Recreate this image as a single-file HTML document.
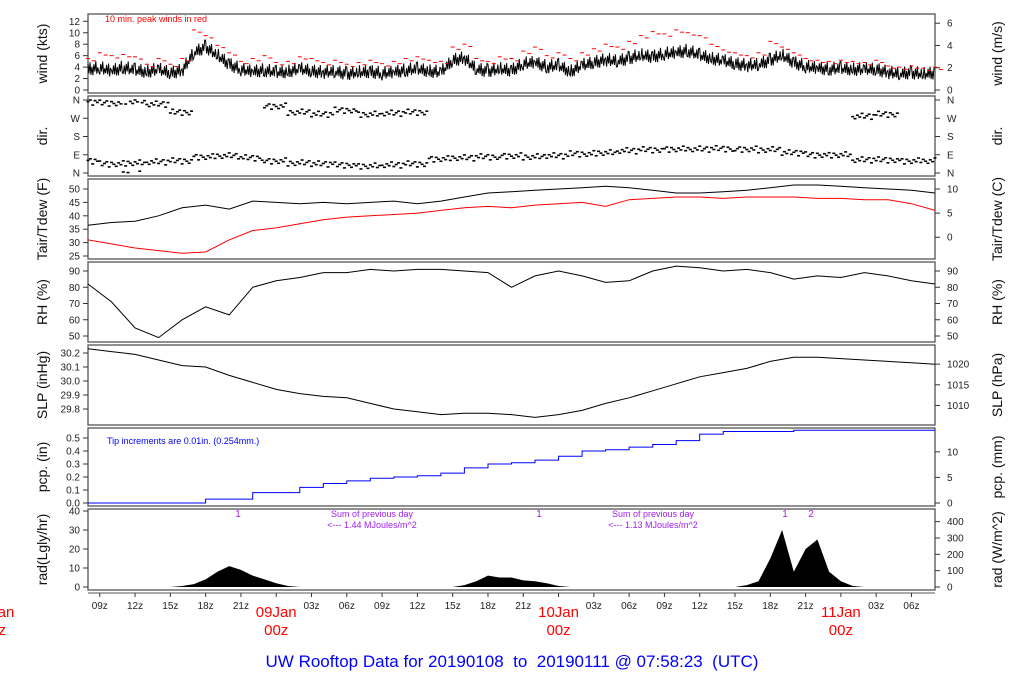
<!DOCTYPE html>
<html><head><meta charset="utf-8"><style>
html,body{margin:0;padding:0;background:#fff;}
svg{display:block;font-family:"Liberation Sans",sans-serif;}
</style></head><body>
<svg id="c" width="1024" height="700" viewBox="0 0 1024 700"></svg>
<script>
// ---- data (hourly from 08z 08Jan, or every 2h) ----
const windKts=[3.6,3.8,3.3,3.9,3.4,3.2,3.5,3.0,3.3,6.5,7.5,6.0,4.5,3.5,3.2,3.4,3.0,3.2,3.6,3.3,3.0,3.2,2.8,3.0,3.2,2.8,3.1,3.4,3.6,3.3,3.0,5.2,5.5,3.6,3.3,3.6,3.4,4.5,4.8,4.0,4.2,3.2,4.2,4.8,5.2,5.0,5.5,6.0,5.8,6.2,6.5,6.8,6.0,5.5,5.0,4.6,4.2,4.4,5.2,6.0,4.8,4.0,3.8,3.6,3.7,3.6,3.5,3.6,3.0,2.8,3.0,2.7,3.0];
const peakKts=[5.5,6.5,6.0,6.2,5.8,4.5,5.5,4.5,5.5,10.5,9.5,7.8,6.5,5.0,5.5,6.0,4.8,5.0,5.8,5.5,4.8,5.2,4.5,4.8,5.2,4.6,5.0,5.5,5.8,5.2,5.0,7.5,8.0,5.5,5.0,5.8,5.5,6.8,7.5,6.0,6.5,5.5,6.5,7.2,8.0,7.5,8.5,9.5,10.2,9.8,10.5,10.0,9.5,8.0,7.0,6.5,6.0,6.5,8.5,7.5,6.5,5.5,5.2,5.0,5.2,5.0,4.8,5.2,4.2,4.0,4.2,3.8,4.0];
const dirMain=[60,45,50,55,60,80,85,75,60,50,45,40,35,40,45,70,75,80,85,80,85,95,100,110,115,118,118,120,118,115,100,90,90,65,65,60,60];
const dirAlt=[350,345,355,340,300,null,null,null,330,300,290,310,290,295,300,null,null,null,null,null,null,null,null,null,null,null,null,null,null,null,null,null,null,280,290,null,null];
const tairF=[36.5,37.5,38,40,43,44,42.5,45.5,45,44.5,45,44.5,45,45.5,44.5,45.5,47,48.5,49,49.5,50,50.5,51,50.5,49.5,48.5,48.5,49,49.5,50.5,51.5,51.5,51,50.5,50,49.5,48.5];
const tdewF=[31,29.5,28,27,26,26.5,31,34.5,35.5,37,38.5,39.5,40,40.5,41,42,43,43.5,43,44,44.5,45,43.5,46,46.5,47,47,46.5,47,47,47,46.5,46.5,46,46,44.5,42];
const rhPct=[82,71,55,49,60,68,63,80,84,86,89,89,91,90,91,91,90,89,80,87,90,87,83,84,90,93,92,90,91,89,85,87,86,89,87,84,82];
const slpInHg=[30.23,30.21,30.19,30.15,30.11,30.10,30.04,29.99,29.94,29.91,29.89,29.88,29.84,29.80,29.78,29.76,29.77,29.77,29.76,29.74,29.76,29.79,29.84,29.88,29.93,29.98,30.03,30.06,30.09,30.14,30.17,30.17,30.16,30.15,30.14,30.13,30.12];
const pcpIn=[0,0,0,0,0,0.03,0.03,0.08,0.08,0.12,0.15,0.17,0.19,0.2,0.21,0.23,0.27,0.3,0.31,0.33,0.36,0.4,0.41,0.43,0.45,0.48,0.53,0.55,0.55,0.55,0.56,0.56,0.56,0.56,0.56,0.56,0.56];
const radLy=[0,0,0,0,0,0,0,0,0.5,1.5,4,8,11,9,6,4,2,0.5,0,0,0,0,0,0,0,0,0,0,0,0,0,0,1,3,6,5,5,3.5,3,2,0.5,0,0,0,0,0,0,0,0,0,0,0,0,0,0,0,1,3,15,30,8,20,25,8,3,0.5,0,0,0,0,0,0,0];
const xTickLabels=["09z","12z","15z","18z","21z","00z","03z","06z","09z","12z","15z","18z","21z","00z","03z","06z","09z","12z","15z","18z","21z","00z","03z","06z"];
const dayLabels=["08Jan","09Jan","10Jan","11Jan"];

const S=document.getElementById('c');const NS='http://www.w3.org/2000/svg';
function el(t,a,p){const e=document.createElementNS(NS,t);for(const k in a)e.setAttribute(k,a[k]);(p||S).appendChild(e);return e;}
function tx(x,y,s,a,name){const e=el('text',Object.assign({x:x,y:y},a));e.textContent=s;return e;}
const X0=88,X1=935,HRS=72;
function xs(t){return X0+t*(X1-X0)/HRS;}
function lin(v0,y0,v1,y1){return v=>y0+(v-v0)*(y1-y0)/(v1-v0);}
const P=[
 {n:'wind',top:14,bot:93,y:lin(0,90,12,21.3),lab:'wind (kts)',rlab:'wind (m/s)'},
 {n:'dir',top:96,bot:176,y:lin(0,173,360,100),lab:'dir.',rlab:'dir.'},
 {n:'temp',top:179,bot:259,y:lin(25,256,50,189),lab:'Tair/Tdew (F)',rlab:'Tair/Tdew (C)'},
 {n:'rh',top:262,bot:342,y:lin(50,336,90,271),lab:'RH (%)',rlab:'RH (%)'},
 {n:'slp',top:345,bot:425,y:lin(29.8,409,30.2,353),lab:'SLP (inHg)',rlab:'SLP (hPa)'},
 {n:'pcp',top:428,bot:506,y:lin(0,503,0.5,438),lab:'pcp. (in)',rlab:'pcp. (mm)'},
 {n:'rad',top:509,bot:590,y:lin(0,587,40,511),lab:'rad(Lgly/hr)',rlab:'rad (W/m^2)'}];
const lt={wind:[[0,'0'],[2,'2'],[4,'4'],[6,'6'],[8,'8'],[10,'10'],[12,'12']],
 dir:[[0,'N'],[90,'E'],[180,'S'],[270,'W'],[360,'N']],
 temp:[[25,'25'],[30,'30'],[35,'35'],[40,'40'],[45,'45'],[50,'50']],
 rh:[[50,'50'],[60,'60'],[70,'70'],[80,'80'],[90,'90']],
 slp:[[29.8,'29.8'],[29.9,'29.9'],[30.0,'30.0'],[30.1,'30.1'],[30.2,'30.2']],
 pcp:[[0,'0.0'],[0.1,'0.1'],[0.2,'0.2'],[0.3,'0.3'],[0.4,'0.4'],[0.5,'0.5']],
 rad:[[0,'0'],[10,'10'],[20,'20'],[30,'30'],[40,'40']]};
const rt={wind:[0,2,4,6].map(v=>[v*1.944,''+v]),dir:lt.dir,
 temp:[0,5,10].map(v=>[v*1.8+32,''+v]),rh:lt.rh,
 slp:[1010,1015,1020].map(v=>[v/33.8639,''+v]),
 pcp:[0,5,10].map(v=>[v/25.4,''+v]),
 rad:[0,100,200,300,400].map(v=>[v/11.63,''+v])};
P.forEach(p=>{
 const g=el('g',{});
 const r=el('rect',{x:X0,y:p.top,width:X1-X0,height:p.bot-p.top,fill:'none',stroke:'#555','stroke-width':1.3},g);
 
 lt[p.n].forEach(([v,s])=>{const y=p.y(v);el('line',{x1:X0-5,x2:X0,y1:y,y2:y,stroke:'#333'},g);
  tx(X0-8,y+3.5,s,{'font-size':10,'text-anchor':'end',fill:'#222'},p.n+'-left-tick-label');});
 rt[p.n].forEach(([v,s])=>{const y=p.y(v);el('line',{x1:X1,x2:X1+5,y1:y,y2:y,stroke:'#333'},g);
  tx(X1+12,y+3.5,s,{'font-size':10,fill:'#222'},p.n+'-right-tick-label');});
 const my=(p.top+p.bot)/2;
 tx(0,0,p.lab,{'font-size':14,'text-anchor':'middle',fill:'#111',transform:`translate(47,${my}) rotate(-90)`},p.n+'-y-axis-title');
 tx(0,0,p.rlab,{'font-size':14,'text-anchor':'middle',fill:'#111',transform:`translate(1002,${my}) rotate(-90)`},p.n+'-right-axis-title');
});
// wind
const jit=[0.9,-0.7,1.2,-1.0,0.4,-1.1,0.8,-0.5,1.3,-0.9,0.2,-0.6];
let wp=[];const yw=P[0].y;
windKts.forEach((v,i)=>{for(let k=0;k<12;k++){const t=i+k/12;if(t>HRS)break;const nv=i<HRS?v+(windKts[i+1]-v)*k/12:v;wp.push(xs(t).toFixed(1)+','+yw(nv+jit[(k+i*5)%12]).toFixed(1));}});
const wl=el('polyline',{points:wp.join(' '),fill:'none',stroke:'#000','stroke-width':1});

peakKts.forEach((v,i)=>{[0,0.5].forEach(o=>{const d=el('line',{x1:xs(i+o)-2,x2:xs(i+o)+2,y1:yw(v-o*0.8),y2:yw(v-o*0.8),stroke:'#f00','stroke-width':1});
 });});
tx(105,22,'10 min. peak winds in red',{'font-size':9,fill:'#f00'},'peak-wind-note');
// dir
const yd=P[1].y;const dj=[-12,5,-4,14,-8,2,10,-15,7,-2];
function dirDots(arr,name){arr.forEach((v,i)=>{if(v==null)return;for(let k=0;k<10;k++){const t=i*2-1+k*0.2;if(t<0||t>HRS)continue;let dv=v+dj[(k+i*3)%10];if(dv<0)dv+=360;if(dv>360)dv-=360;
 const d=el('line',{x1:xs(t)-1.5,x2:xs(t)+1.5,y1:yd(dv),y2:yd(dv),stroke:'#000','stroke-width':1.6});
 }});}
dirDots(dirMain,'wind-dir-mark');dirDots(dirAlt,'wind-dir-mark-alt');
// lines helper
function line(arr,p,col,name){const pts=arr.map((v,i)=>xs(i*2).toFixed(1)+','+p.y(v).toFixed(1)).join(' ');
 const l=el('polyline',{points:pts,fill:'none',stroke:col,'stroke-width':1});}
line(tairF,P[2],'#000','tair-line');line(tdewF,P[2],'#f00','tdew-line');
line(rhPct,P[3],'#000','rh-line');line(slpInHg,P[4],'#000','slp-line');
// pcp step
let pp=[];pcpIn.forEach((v,i)=>{const y=P[5].y(v).toFixed(1);pp.push(xs(i*2).toFixed(1)+','+y);pp.push(xs(Math.min(HRS,i*2+2)).toFixed(1)+','+y);});
const pl=el('polyline',{points:pp.join(' '),fill:'none',stroke:'#00f','stroke-width':1});

tx(107,444,'Tip increments are 0.01in. (0.254mm.)',{'font-size':9,fill:'#00f'},'tip-note');
// rad
let rp=[xs(0)+','+P[6].y(0)];radLy.forEach((v,i)=>rp.push(xs(i).toFixed(1)+','+P[6].y(v).toFixed(1)));rp.push(xs(HRS)+','+P[6].y(0));
const ra=el('polygon',{points:rp.join(' '),fill:'#000'});
const pu='#a020f0';
[[238,'1'],[539,'1'],[785,'1'],[811,'2']].forEach(([x,s])=>tx(x,517,s,{'font-size':10,fill:pu,'text-anchor':'middle'},'rad-day-marker'));
tx(372,517,'Sum of previous day',{'font-size':9,fill:pu,'text-anchor':'middle'},'rad-sum-note');
tx(372,528,'<--- 1.44 MJoules/m^2',{'font-size':9,fill:pu,'text-anchor':'middle'},'rad-sum-value');
tx(653,517,'Sum of previous day',{'font-size':9,fill:pu,'text-anchor':'middle'},'rad-sum-note');
tx(653,528,'<--- 1.13 MJoules/m^2',{'font-size':9,fill:pu,'text-anchor':'middle'},'rad-sum-value');
// x axis
el('line',{x1:X0,x2:X1,y1:593,y2:593,stroke:'#555'});
xTickLabels.forEach((s,i)=>{const t=1+i*3;const x=xs(t);el('line',{x1:x,x2:x,y1:593,y2:597,stroke:'#333'});
 if(s!=='00z')tx(x,609,s,{'font-size':10,'text-anchor':'middle',fill:'#222'},'x-tick-label');});
dayLabels.forEach((s,i)=>{const x=xs(-8+i*24);
 tx(x,617,s,{'font-size':15,'text-anchor':'middle',fill:'#f00'},'day-label');
 tx(x,635,'00z',{'font-size':15,'text-anchor':'middle',fill:'#f00'},'day-label-hour');});
tx(512,667,'UW Rooftop Data for 20190108\u00a0\u00a0to\u00a0\u00a020190111 @ 07:58:23\u00a0\u00a0(UTC)',{'font-size':17,'text-anchor':'middle',fill:'#00f'},'chart-title');
</script>
</body></html>
